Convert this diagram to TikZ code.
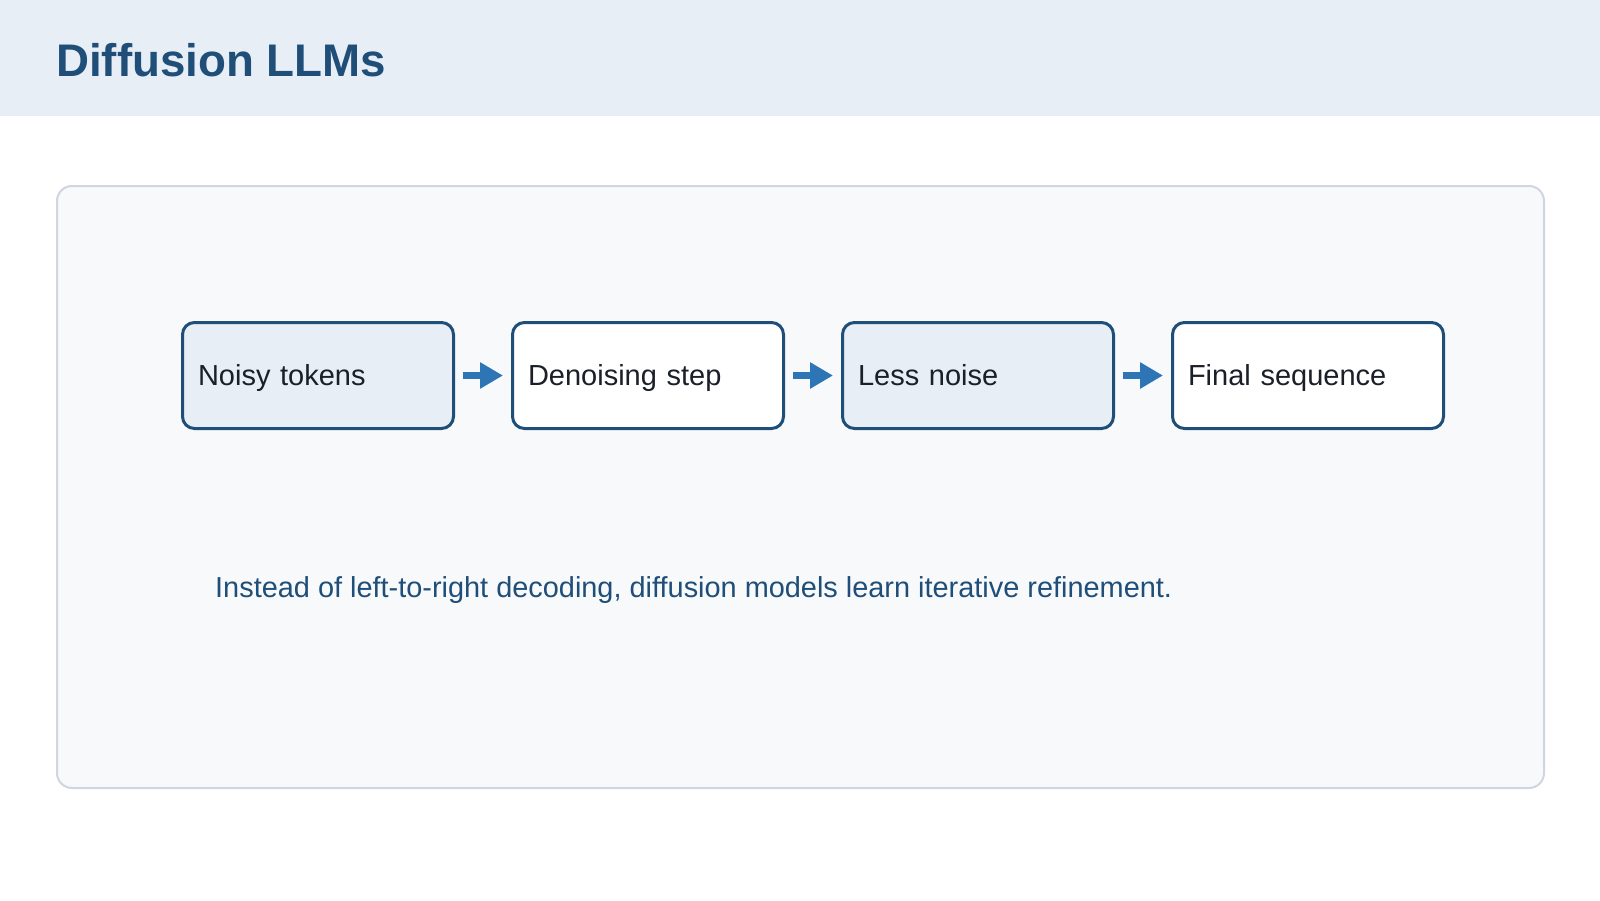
\documentclass[tikz,border=0pt]{standalone}
\usepackage{fontspec}
\setmainfont{Liberation Sans}
\usetikzlibrary{arrows.meta,positioning}
\definecolor{headbg}{HTML}{E8EEF6}
\definecolor{navy}{HTML}{1F4E79}
\definecolor{panelbg}{HTML}{F8F9FB}
\definecolor{panelline}{HTML}{CFD6E2}
\definecolor{arrowblue}{HTML}{2E75B6}
\definecolor{ink}{HTML}{1A1F29}

\begin{document}
\begin{tikzpicture}[x=1pt, y=-1pt,
  stagebox/.style={draw=navy, line width=3pt, rounded corners=12pt,
    minimum width=271pt, minimum height=106pt, inner xsep=15.5pt,
    text width=240pt, align=left, text height=25pt, text depth=6pt,
    text=ink, font=\fontsize{29}{34}\selectfont},
  flow/.style={arrowblue, line width=7pt, -{Triangle[length=23pt,width=25pt]},
    shorten <=8pt, shorten >=8pt}]
\useasboundingbox (0,0) rectangle (1600,900);
\fill[white] (0,0) rectangle (1600,900);
\fill[headbg] (0,0) rectangle (1600,116);
\node[anchor=base west, inner sep=0pt, text=navy, font=\fontsize{45.7}{54}\selectfont\bfseries] (title) at (56,76) {Diffusion LLMs};
\draw[panelline, fill=panelbg, line width=2pt, rounded corners=15pt] (57,186) rectangle (1544,788);
\node[stagebox, fill=headbg, anchor=north west] (noisy) at (181,321) {Noisy tokens};
\node[stagebox, fill=white, right=56pt of noisy] (denoise) {Denoising step};
\node[stagebox, fill=headbg, right=56pt of denoise] (less) {Less noise};
\node[stagebox, fill=white, right=56pt of less] (final) {Final sequence};
\draw[flow] (noisy) -- (denoise);
\draw[flow] (denoise) -- (less);
\draw[flow] (less) -- (final);
\node[anchor=base west, inner sep=0pt, text=navy, font=\fontsize{28.9}{34}\selectfont] (note) at (215,597) {Instead of left-to-right decoding, diffusion models learn iterative refinement.};
\end{tikzpicture}
\end{document}
